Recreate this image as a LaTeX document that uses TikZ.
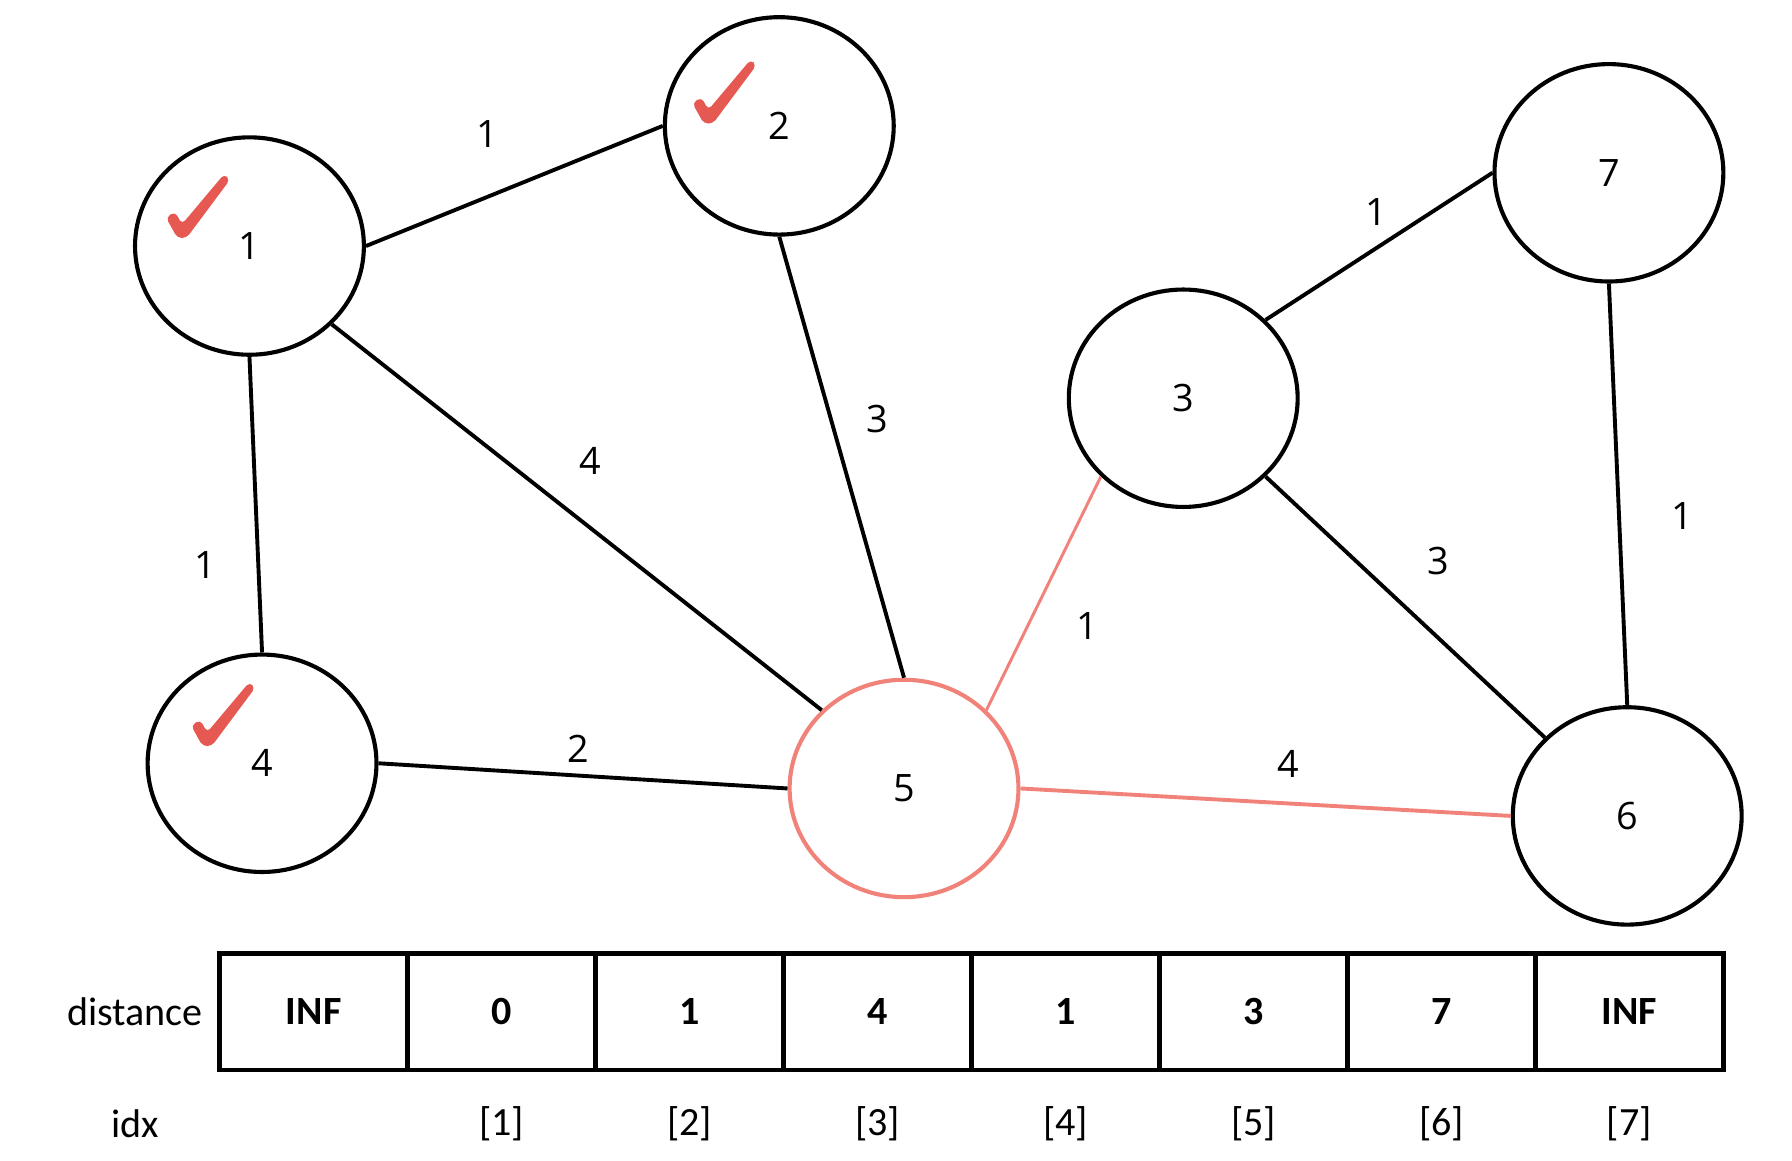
\documentclass[tikz,border=0pt]{standalone}
\usepackage{fontspec}
\setmainfont{Open Sans}
\newfontfamily\tabfont{Carlito}
\usetikzlibrary{shapes.geometric}

\definecolor{tickred}{RGB}{230,88,82}
\definecolor{salmon}{RGB}{240,130,122}

\tikzset{tick/.pic={\fill[tickred, rounded corners=2] (-14,-15) -- (-6,-20) -- (0,-9) -- (37,-53) -- (42,-48) -- (4,3) -- (-4,3) -- cycle;}}

\begin{document}
\begin{tikzpicture}
  [x=0.5pt, y=-0.5pt,
   every node/.style={font=\fontsize{16.5}{19}\selectfont},
   vertex/.style={draw, ellipse, line width=1.8pt, minimum width=100pt, minimum height=95pt},
   edge/.style={line width=1.7pt},
   hot/.style={draw=salmon},
   cell/.style={draw, line width=2pt, minimum width=82.1pt, minimum height=51pt, font=\tabfont\bfseries\fontsize{17.5}{20}\selectfont},
   rowlbl/.style={font=\tabfont\fontsize{17.5}{20}\selectfont}]
  \useasboundingbox (0,0) rectangle (1566,1014);

  % vertices
  \node[vertex] (n1) at (218,215) {1};
  \node[vertex] (n2) at (681,110) {2};
  \node[vertex] (n3) at (1034,348) {3};
  \node[vertex] (n4) at (229,667) {4};
  \node[vertex, hot] (n5) at (790,689) {5};
  \node[vertex] (n6) at (1422,713) {6};
  \node[vertex] (n7) at (1406,151) {7};

  % visited
  \pic at (159,205) {tick};
  \pic at (619,105) {tick};
  \pic at (181,649) {tick};

  % edges
  \draw[edge] (n1.east) -- (n2.west);
  \draw[edge] (n2.south) -- (n5.north);
  \draw[edge] (n1.south east) -- (n5.north west);
  \draw[edge] (n1.south) -- (n4.north);
  \draw[edge] (n4.east) -- (n5.west);
  \draw[edge, salmon, line width=1.3pt] (n3.south west) -- (n5.north east);
  \draw[edge, salmon] (n5.east) -- (n6.west);
  \draw[edge] (n3.north east) -- (n7.west);
  \draw[edge] (n3.south east) -- (n6.north west);
  \draw[edge] (n7.south) -- (n6.north);

  % weights
  \node (w12) at (426,117) {1};
  \node (w25) at (767,366) {3};
  \node (w15) at (516,403) {4};
  \node (w14) at (179,494) {1};
  \node (w45) at (505,654) {2};
  \node (w35) at (950,547) {1};
  \node (w37) at (1203,185) {1};
  \node (w36) at (1257,490) {3};
  \node (w76) at (1470,451) {1};
  \node (w56) at (1126,668) {4};

  % distance table
  \foreach \v [count=\i] in {INF,0,1,4,1,3,7,INF}
    \node[cell] (d\i) at ({192+164.25*(\i-0.5)},884) {\v};
  \foreach \i in {2,...,8}
    \node[rowlbl] (x\i) at ({192+164.25*(\i-0.5)},982) {[\the\numexpr\i-1\relax]};
  \node[rowlbl] (dist) at (118,884) {distance};
  \node[rowlbl] (idx) at (118,982) {idx};
\end{tikzpicture}
\end{document}
